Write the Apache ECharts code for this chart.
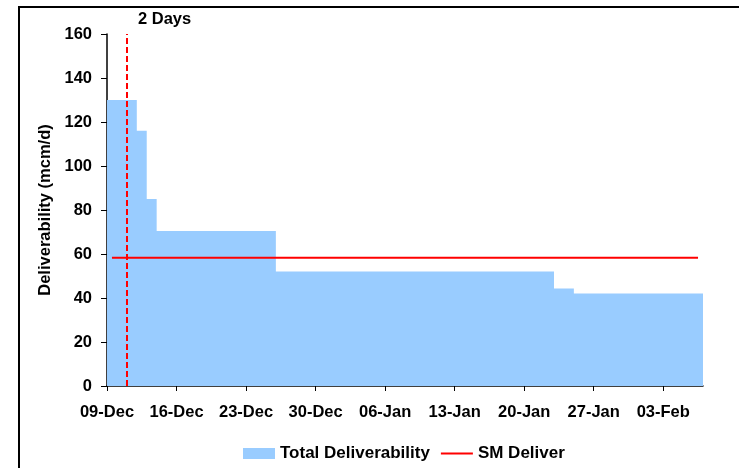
<!DOCTYPE html>
<html>
<head>
<meta charset="utf-8">
<script src="https://cdn.jsdelivr.net/npm/echarts@6/dist/echarts.min.js"></script>
<style>
html,body{margin:0;padding:0;background:#fff;overflow:hidden}
#wrap{position:relative;width:739px;height:468px}
#c{width:739px;height:468px}
#frame{position:absolute;left:18px;top:6px;width:721px;height:462px;border-top:2px solid #000;border-left:2px solid #000;box-sizing:border-box;pointer-events:none}
</style>
</head>
<body>
<div id="wrap"><div id="c"></div><div id="frame"></div></div>
<script>
// Data
var tickLabels = ['09-Dec','16-Dec','23-Dec','30-Dec','06-Jan','13-Jan','20-Jan','27-Jan','03-Feb'];
var totalDays = 60; // 09-Dec .. 07-Feb
var stepStartDay = [0, 3, 4, 5, 17, 45, 47, 60];
var deliverability = [130, 116, 85, 70.5, 52, 44.3, 42, 42];
var smDeliverDays = [0.5, 59.5];
var smDeliver = [58.3, 58.3];
var markerDay = 2;
var markerLabel = '2 Days';

var FONT = '"Liberation Sans", Arial, sans-serif';
var dayCats = [];
for (var i = 0; i <= totalDays; i++) dayCats.push(String(i));
var areaData = stepStartDay.map(function (d, i) { return [d, deliverability[i]]; });
var lineData = smDeliverDays.map(function (d, i) { return [d, smDeliver[i]]; });

var chart = echarts.init(document.getElementById('c'), null, {renderer: 'canvas'});
chart.setOption({
  animation: false,
  backgroundColor: '#fff',
  textStyle: {fontFamily: FONT},
  title: {
    text: markerLabel, left: 138, top: 11, padding: 0,
    textStyle: {fontFamily: FONT, fontSize: 16.5, fontWeight: 'bold', color: '#000'}
  },
  grid: {left: 107, right: 36, top: 34, bottom: 82, containLabel: false},
  legend: {
    left: 238, top: 440,
    itemWidth: 32, itemHeight: 11, itemGap: 11,
    textStyle: {fontFamily: FONT, fontSize: 17, fontWeight: 'bold', color: '#000'},
    data: [
      {name: 'Total Deliverability', icon: 'rect'},
      {name: 'SM Deliver', icon: 'path://M0,0H32V2H0Z'}
    ]
  },
  xAxis: [{
    type: 'category', data: dayCats, boundaryGap: false,
    axisLine: {show: true, lineStyle: {color: '#000', width: 1.5}},
    axisTick: {show: true, length: 5, lineStyle: {color: '#000', width: 1},
      interval: function (idx) { return idx % 7 === 0; }},
    axisLabel: {
      interval: function (idx) { return idx % 7 === 0; },
      formatter: function (v, idx) { return idx % 7 === 0 ? (tickLabels[idx / 7] || '') : ''; },
      margin: 18, fontFamily: FONT, fontSize: 16.5, fontWeight: 'bold', color: '#000'
    },
    splitLine: {show: false}
  }, {
    type: 'value', min: 0, max: totalDays, show: false
  }],
  yAxis: {
    type: 'value', min: 0, max: 160, interval: 20,
    name: 'Deliverability (mcm/d)', nameLocation: 'middle', nameGap: 45,
    nameTextStyle: {fontFamily: FONT, fontSize: 16.5, fontWeight: 'bold', color: '#000'},
    axisLine: {show: true, lineStyle: {color: '#000', width: 1.5}},
    axisTick: {show: true, length: 6, lineStyle: {color: '#000', width: 1}},
    axisLabel: {margin: 15, fontFamily: FONT, fontSize: 16.5, fontWeight: 'bold', color: '#000'},
    splitLine: {show: false}
  },
  series: [{
    name: 'Total Deliverability', type: 'line', xAxisIndex: 1,
    step: 'end', data: areaData, symbol: 'none',
    color: '#99CCFF',
    itemStyle: {color: '#99CCFF'},
    lineStyle: {width: 1, color: '#99CCFF', opacity: 0},
    areaStyle: {color: '#99CCFF', opacity: 1},
    z: 1
  }, {
    name: 'SM Deliver', type: 'line', xAxisIndex: 1,
    data: lineData, symbol: 'none',
    color: '#FF0000',
    itemStyle: {color: '#FF0000'},
    lineStyle: {width: 2, color: '#FF0000'},
    z: 3,
    markLine: {
      silent: true, symbol: 'none',
      label: {show: false},
      lineStyle: {color: '#FF0000', width: 2, type: [6, 3]},
      data: [{xAxis: markerDay}]
    }
  }]
});
</script>
</body>
</html>
